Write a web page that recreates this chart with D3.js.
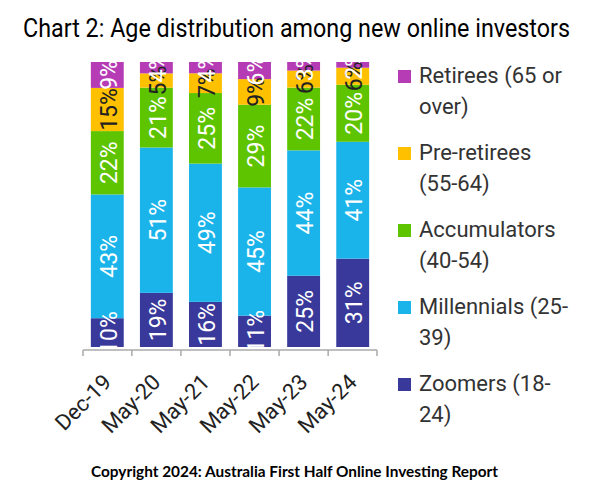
<!DOCTYPE html>
<html><head><meta charset="utf-8">
<script src="https://cdn.jsdelivr.net/npm/d3@7"></script>
<style>html,body{margin:0;padding:0;background:#fff;}svg{display:block;}</style>
</head><body>
<svg id="chart" width="611" height="496"></svg>
<script>
const categories = ["Dec-19","May-20","May-21","May-22","May-23","May-24"];
const seriesNames = ["Zoomers","Millennials","Accumulators","Pre-retirees","Retirees"];
const zoomers      = [10,19,16,11,25,31];
const millennials  = [43,51,49,45,44,41];
const accumulators = [22,21,25,29,22,20];
const preRetirees  = [15, 5, 7, 9, 6, 6];
const retirees     = [ 9, 4, 4, 6, 3, 2];
const legendLabels = [
  ["Retirees (65 or","over)"],
  ["Pre-retirees","(55-64)"],
  ["Accumulators","(40-54)"],
  ["Millennials (25-","39)"],
  ["Zoomers (18-","24)"]
];
const legendKeys = ["Retirees","Pre-retirees","Accumulators","Millennials","Zoomers"];
const titleText = "Chart 2: Age distribution among new online investors";
const copyrightText = "Copyright 2024: Australia First Half Online Investing Report";

const colors = {
  "Zoomers":"#38399a","Millennials":"#1bb4ea","Accumulators":"#5ec400",
  "Pre-retirees":"#ffc000","Retirees":"#b63cb6"
};
const labelColors = {"Pre-retirees":"#222"};

const seriesData = {"Zoomers":zoomers,"Millennials":millennials,"Accumulators":accumulators,"Pre-retirees":preRetirees,"Retirees":retirees};
const table = categories.map((c,i)=>{const o={cat:c}; seriesNames.forEach(s=>o[s]=seriesData[s][i]); return o;});

const svg = d3.select("#chart");
const x = d3.scaleBand().domain(categories).range([83,377]).paddingInner(0.33).paddingOuter(0.16);
const y = d3.scaleLinear().domain([0,1]).range([347,62]);

const stack = d3.stack().keys(seriesNames).offset(d3.stackOffsetExpand);
const layers = stack(table);

svg.append("defs").append("clipPath").attr("id","plotclip")
  .append("rect").attr("x",70).attr("y",y(1)).attr("width",320).attr("height",y(0)-y(1));

const g = svg.append("g");
layers.forEach(layer=>{
  g.append("g").selectAll("rect").data(layer).join("rect")
    .attr("x",d=>x(d.data.cat))
    .attr("width",x.bandwidth())
    .attr("y",d=>y(d[1]))
    .attr("height",d=>y(d[0])-y(d[1]))
    .attr("fill",colors[layer.key]);
});

const lg = svg.append("g").attr("clip-path","url(#plotclip)");
layers.forEach(layer=>{
  lg.append("g").selectAll("text").data(layer).join("text")
    .attr("transform",d=>`translate(${x(d.data.cat)+x.bandwidth()/2+1},${(y(d[0])+y(d[1]))/2}) rotate(-90)`)
    .attr("text-anchor","middle")
    .attr("dy","0.36em")
    .attr("font-family","Roboto, sans-serif")
    .attr("font-size",23)
    .attr("fill",labelColors[layer.key]||"#fff")
    .text(d=>d.data[layer.key]+"%");
});

// x axis
const axis = svg.append("g");
axis.append("line").attr("x1",83).attr("x2",377).attr("y1",350).attr("y2",350)
  .attr("stroke","#aaa").attr("stroke-width",1.5);
const bounds = categories.map(c=>x(c)-x.step()*x.paddingInner()/2);
bounds[0] = x.range()[0];
bounds.push(x.range()[1]);
axis.selectAll("line.tick").data(bounds).join("line").attr("class","tick")
  .attr("x1",d=>d).attr("x2",d=>d).attr("y1",350).attr("y2",356)
  .attr("stroke","#aaa").attr("stroke-width",1.5);
axis.selectAll("text").data(categories).join("text")
  .attr("transform",c=>`translate(${x(c)+x.bandwidth()/2},378) rotate(-45)`)
  .attr("text-anchor","end").attr("dy","0.35em")
  .attr("font-family","Roboto, sans-serif").attr("font-size",22).attr("fill","#222")
  .text(c=>c);

// legend
const leg = svg.append("g");
legendKeys.forEach((k,i)=>{
  const top = 70 + i*77;
  leg.append("rect").attr("x",398).attr("y",top).attr("width",13).attr("height",13).attr("fill",colors[k]);
  legendLabels[i].forEach((ln,j)=>{
    leg.append("text").attr("x",419).attr("y",top+13+j*31)
      .attr("font-family","Roboto, sans-serif").attr("font-size",22).attr("fill","#333")
      .text(ln);
  });
});

// title
const t = svg.append("text").attr("x",23).attr("y",37)
  .attr("font-family","Roboto, sans-serif").attr("font-size",25).attr("fill","#000").text(titleText);
const tl = t.node().getComputedTextLength();
if (Math.abs(tl-547)>4) t.attr("textLength",547).attr("lengthAdjust","spacingAndGlyphs");

const cp = svg.append("text").attr("x",91).attr("y",477)
  .attr("font-family","Lato, sans-serif").attr("font-weight",700).attr("font-size",15).attr("fill","#000").text(copyrightText);
const cl = cp.node().getComputedTextLength();
if (Math.abs(cl-407)>3) cp.attr("textLength",407).attr("lengthAdjust","spacingAndGlyphs");
</script>
</body></html>
